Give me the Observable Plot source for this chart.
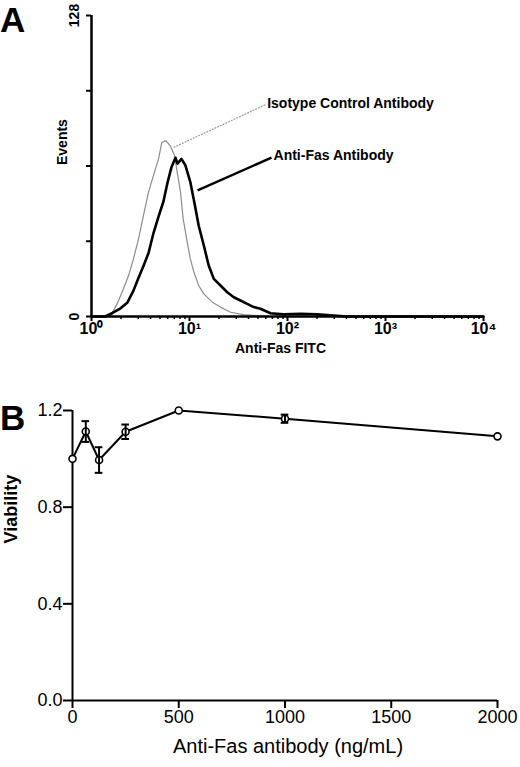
<!DOCTYPE html>
<html><head><meta charset="utf-8">
<script src="https://cdn.jsdelivr.net/npm/d3@7"></script>
<script src="https://cdn.jsdelivr.net/npm/@observablehq/plot@0.6"></script>
<style>
body{margin:0;background:#fff;width:520px;height:767px;position:relative;overflow:hidden;font-family:"Liberation Sans",Arial,sans-serif}
#a{position:absolute;left:0;top:0}
#b{position:absolute;left:0;top:362px}
.panel{position:absolute;font-weight:bold;font-size:35px;line-height:40px;color:#000}
</style></head><body>
<div id="a"></div><div id="b"></div>
<div class="panel" style="left:0;top:0px">A</div>
<div class="panel" style="left:0;top:398px">B</div>
<script>
// ---------- Panel A: flow cytometry histograms ----------
const isoFITC   = [1, 1.49, 1.68, 1.89, 2.12, 2.39, 2.68, 3.02, 3.39, 3.82, 4.29, 4.83, 5.22, 5.73, 6.35, 7.03, 7.49, 8.09, 8.62, 9.48, 10.2, 11.1, 12.4, 14.0, 17.1, 20.7, 26.2, 35.6, 48.3, 67, 10000];
const isoEvents = [0, 0, 2.5, 6.8, 11.8, 17.4, 24.5, 33, 43, 52.9, 60, 67, 74, 74.8, 72.7, 68.5, 61.4, 52.9, 41.5, 31.6, 24.5, 18.8, 13.2, 9.6, 6.1, 4, 1.8, 0.8, 0.4, 0, 0];
const fasFITC   = [1, 1.38, 1.64, 1.98, 2.33, 2.68, 3.02, 3.39, 3.82, 4.29, 4.83, 5.43, 5.97, 6.55, 7.19, 7.55, 8.28, 9.10, 10.2, 11.2, 12.4, 14.0, 15.7, 17.7, 20.7, 24.3, 28.3, 33.1, 38.8, 45.3, 53.0, 67.1, 91.6, 136, 201, 295, 406, 10000];
const fasEvents = [0, 0, 1.5, 3.5, 6, 11, 16.5, 21.5, 27, 35.5, 42.5, 49, 57, 63.5, 67.5, 65, 67, 64.2, 57.1, 48.6, 38.7, 30.2, 21.7, 16, 13.2, 10.3, 8.2, 6.8, 5.4, 4, 3.3, 1.4, 0.9, 1.1, 0.9, 0.4, 0, 0];
const xMajorTicks = [1, 10, 100, 1000, 10000];
const xMajorLabels = ["10\u2070", "10\u00B9", "10\u00B2", "10\u00B3", "10\u2074"];
const yTicksA = [0, 32, 64, 96, 128];
const yLabelsA = ["0", "128"];
const yLabelValuesA = [0, 128];
const annotText = ["Isotype Control Antibody", "Anti-Fas Antibody"];
const annotX = [62, 72];
const annotY = [90.6, 68.5];
const leaderX1 = [6.9, 12.1];
const leaderY1 = [71.9, 53.6];
const leaderX2 = [59.7, 68.7];
const leaderY2 = [90.1, 67.6];

// ---------- Panel B: viability ----------
const conc = [0, 62.5, 125, 250, 500, 1000, 2000];
const viability = [1.0, 1.113, 0.995, 1.112, 1.2, 1.166, 1.093];
const sem = [0, 0.043, 0.053, 0.03, 0, 0.017, 0];
const xTicksB = [0, 500, 1000, 1500, 2000];
const yTicksB = [0, 0.4, 0.8, 1.2];

const FONT = '"Liberation Sans", Arial, sans-serif';

const iso = isoFITC.map((x, i) => ({x, y: isoEvents[i]}));
const fas = fasFITC.map((x, i) => ({x, y: fasEvents[i]}));
const minorTicks = [];
for (let e = 0; e < 4; e++) for (let k = 2; k <= 9; k++) minorTicks.push(k * Math.pow(10, e));
const annots = annotText.map((t, i) => ({t, x: annotX[i], y: annotY[i], x1: leaderX1[i], y1: leaderY1[i], x2: leaderX2[i], y2: leaderY2[i]}));
const yLabA = yLabelsA.map((t, i) => ({t, y: yLabelValuesA[i]}));

const plotA = Plot.plot({
  width: 520, height: 362,
  marginLeft: 91, marginRight: 37, marginTop: 15, marginBottom: 46,
  style: {fontFamily: FONT, color: "#000", background: "transparent", overflow: "visible"},
  x: {type: "log", domain: [1, 10000], label: null},
  y: {domain: [0, 128], label: null},
  marks: [
    Plot.line(iso, {x: "x", y: "y", stroke: "#8c8c8c", strokeWidth: 1.2}),
    Plot.line(fas, {x: "x", y: "y", stroke: "#000", strokeWidth: 2.6}),
    Plot.link([annots[0]], {x1: "x1", y1: "y1", x2: "x2", y2: "y2", stroke: "#9a9a9a", strokeWidth: 1.2, strokeDasharray: "2,1"}),
    Plot.link([annots[1]], {x1: "x1", y1: "y1", x2: "x2", y2: "y2", stroke: "#000", strokeWidth: 2.4}),
    Plot.text(annots, {x: "x", y: "y", text: "t", textAnchor: "start", fontSize: 14, fontWeight: "bold", letterSpacing: "-0.4px"}),
    Plot.ruleX([1], {y1: 0, y2: 128, strokeWidth: 2.5}),
    Plot.ruleY([0], {x1: 1, x2: 10000, strokeWidth: 2.5}),
    Plot.axisY({ticks: yTicksA, tickSize: 5, strokeWidth: 2, tickFormat: () => "", label: null}),
    Plot.text(yLabA, {y: "y", text: "t", frameAnchor: "left", dx: -17, rotate: -90, textAnchor: "middle", lineAnchor: "middle", fontSize: 14, fontWeight: "bold"}),
    Plot.axisX({ticks: minorTicks, tickSize: 3, strokeWidth: 1.5, tickFormat: () => "", label: null}),
    Plot.axisX({ticks: xMajorTicks, tickSize: 5, strokeWidth: 2, tickPadding: 1, fontSize: 16, fontWeight: "bold",
      tickFormat: d => xMajorLabels[xMajorTicks.indexOf(d)], label: null}),
    Plot.text(["Events"], {frameAnchor: "left", dx: -29, dy: -1, rotate: -90, fontSize: 14, fontWeight: "bold"}),
    Plot.text(["Anti-Fas FITC"], {frameAnchor: "bottom", dx: -7, dy: 36, fontSize: 14, fontWeight: "bold"})
  ]
});
document.getElementById("a").appendChild(plotA);

const rowsB = conc.map((c, i) => ({c, v: viability[i], e: sem[i]}));
const errRows = rowsB.filter(d => d.e > 0);
const capHalf = 18;
const plotB = Plot.plot({
  width: 520, height: 405,
  marginLeft: 72, marginRight: 23, marginTop: 48, marginBottom: 67,
  style: {fontFamily: FONT, color: "#000", background: "transparent", overflow: "visible"},
  x: {domain: [0, 2000], label: null},
  y: {domain: [0, 1.2], label: null},
  marks: [
    Plot.ruleX([0], {y1: 0, y2: 1.2, strokeWidth: 2}),
    Plot.ruleY([0], {x1: 0, x2: 2000, strokeWidth: 2}),
    Plot.axisY({ticks: yTicksB, tickSize: 9, tickPadding: 1, strokeWidth: 2, fontSize: 18, tickFormat: d => d.toFixed(1), label: null}),
    Plot.axisX({ticks: xTicksB, tickSize: 8, tickPadding: 2, strokeWidth: 2, fontSize: 18, tickFormat: d => String(d), label: null}),
    Plot.line(rowsB, {x: "c", y: "v", stroke: "#000", strokeWidth: 2}),
    Plot.dot(rowsB, {x: "c", y: "v", r: 3.5, fill: "#fff", stroke: "#000", strokeWidth: 1.6}),
    Plot.ruleX(errRows, {x: "c", y1: d => d.v - d.e, y2: d => d.v + d.e, strokeWidth: 2}),
    Plot.ruleY(errRows, {y: d => d.v + d.e, x1: d => d.c - capHalf, x2: d => d.c + capHalf, strokeWidth: 2}),
    Plot.ruleY(errRows, {y: d => d.v - d.e, x1: d => d.c - capHalf, x2: d => d.c + capHalf, strokeWidth: 2}),
    Plot.text(["Anti-Fas antibody (ng/mL)"], {frameAnchor: "bottom", dx: 3, dy: 52, fontSize: 20}),
    Plot.text(["Viability"], {frameAnchor: "left", dx: -61, dy: -12, rotate: -90, fontSize: 18, fontWeight: "bold"})
  ]
});
document.getElementById("b").appendChild(plotB);
</script>
</body></html>
